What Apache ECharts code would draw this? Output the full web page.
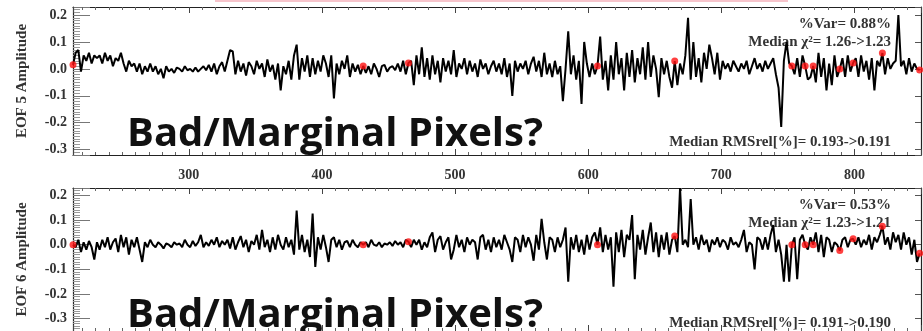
<!DOCTYPE html>
<html><head><meta charset="utf-8">
<script src="https://cdn.jsdelivr.net/npm/echarts@6/dist/echarts.min.js"></script>
<style>html,body{margin:0;padding:0;background:#fff}#c{width:923px;height:331px}</style>
</head><body><div id="c"></div>
<script>
// x positions: xStart, xStart+xStep, ...
const xStart = 213;
const xStep = 2;
const xMin = 213, xMax = 850;

// EOF 5 amplitude (top panel)
const eof5 = [
 .015,.06,.07,-.01,.05,.03,.06,.02,.05,.04,
 .05,.02,.06,.03,.05,.01,.04,.03,.06,.02,
 -.01,.03,.01,.02,-.01,.02,-.02,.01,-.01,.02,
 -.01,.01,-.02,.0,-.035,.01,-.01,.0,-.015,.005,
 .0,-.01,.01,-.005,.0,-.01,.005,-.01,.0,.01,
 -.005,.015,-.01,.02,-.02,.01,.025,-.01,.03,.07,
 .065,-.02,.03,-.01,.02,-.025,.025,.01,-.02,.03,
 .0,.02,-.03,.035,-.01,.015,-.04,.02,-.08,.01,
 -.02,.03,-.04,.05,.09,-.04,.04,-.01,.05,-.03,
 .04,-.02,.03,-.01,.05,.02,-.03,.05,-.11,.02,
 -.02,.03,.0,.05,-.03,.02,-.01,.015,-.02,.011,
 -.015,.01,-.02,.02,.0,-.03,.01,.015,-.01,.005,
 .01,-.005,.02,-.01,.03,-.02,.022,.03,-.06,.05,
 -.02,.08,-.03,.04,-.04,.05,-.02,.03,-.05,.04,
 -.01,.03,-.02,.07,-.03,.02,.0,.04,-.02,.03,
 -.01,.02,-.03,.035,.0,.02,-.02,.01,.03,-.01,
 .02,-.02,.04,-.03,.02,-.1,.03,-.01,.02,.0,
 .03,-.02,.02,.045,-.01,.03,-.03,.06,-.02,.02,
 -.03,.03,-.02,.01,-.12,.0,.14,-.02,.05,-.04,
 .03,-.13,.1,.02,-.03,.02,-.02,.011,.12,-.04,
 .03,-.08,.05,-.04,.1,-.02,.04,-.08,.06,-.03,
 .07,-.05,.04,-.02,.08,-.04,.1,-.03,.05,.0,
 -.105,.04,-.02,.03,-.03,-.07,.029,-.06,.02,-.02,
 .05,.19,-.04,.1,-.03,.04,-.05,.06,.0,.09,
 .04,-.02,.06,-.04,.03,.0,.02,-.01,.03,.01,
 -.01,.02,.0,.03,-.02,.01,.04,.0,.02,-.01,
 .03,.0,.02,.04,-.02,-.07,-.216,.03,.1,.02,
 .011,-.02,.04,-.03,.05,.011,-.04,-.03,.011,-.05,
 .06,-.03,.04,-.08,.02,-.06,.05,-.03,.0,.04,
 -.03,.05,-.01,.022,.04,-.03,.05,-.01,.03,-.04,
 .04,-.08,.03,.01,.059,-.02,.04,.0,.02,.03,
 .2,.01,.03,-.02,.04,-.01,.02,.0,-.004
];

// EOF 6 amplitude (bottom panel)
const eof6 = [
 .0,-.01,.02,-.03,.01,-.02,.015,-.01,-.06,.01,
 -.02,.02,-.01,.03,-.02,.01,.025,-.03,.04,-.01,
 .03,-.04,.02,-.01,.03,-.02,-.07,.01,-.01,.02,
 .0,-.01,.01,.0,-.015,.005,.0,-.01,.01,.0,
 .005,-.01,.02,.0,-.01,.015,-.005,.01,.04,-.01,
 .01,-.005,.02,.0,.03,-.01,.015,.0,.02,-.015,
 .03,-.02,.01,.035,-.01,.02,-.03,.015,.0,.04,
 -.02,.06,-.01,.02,-.03,.03,-.02,.04,.0,-.02,
 .03,-.01,.02,-.04,.138,-.02,.04,-.03,.02,-.05,
 .126,-.09,.03,-.02,.04,-.01,-.07,.02,.03,-.01,
 .02,-.02,.01,.015,-.01,.02,.0,-.01,.01,.0,
 .01,-.01,.02,.0,-.005,.01,-.01,.005,.0,.01,
 -.005,.015,.0,.01,-.01,.02,.012,-.01,.02,.0,
 .02,-.02,.01,-.01,.03,.05,-.03,.02,.035,-.02,
 .01,.03,-.06,-.02,.04,-.01,.02,-.03,.03,.0,
 .02,.01,-.06,.03,.04,-.02,.02,-.03,.03,-.01,
 .02,-.02,.04,.01,-.02,-.07,.03,.02,-.03,.04,
 -.01,.03,.0,-.065,.04,-.02,.105,.01,-.06,.03,
 .02,-.03,.03,-.01,.02,.07,-.15,.03,-.02,.04,
 -.03,.02,-.04,.04,-.02,.03,.05,.0,.07,-.03,
 .04,-.02,.03,-.17,.05,-.03,.06,-.05,.04,.02,
 .12,-.14,.04,-.02,.06,-.04,.03,.09,-.03,.05,
 -.05,.04,-.02,.05,-.04,.02,.035,-.03,.23,.0,
 .02,-.01,.185,.0,.03,-.02,.04,.0,.02,-.03,
 .02,.0,.03,-.01,.02,.01,-.02,.03,.0,.01,
 -.01,.02,.06,-.03,.01,.0,-.1,.03,.02,-.02,
 .03,-.02,.04,.08,-.03,.02,-.04,-.15,.0,-.15,
 .0,.03,-.14,.02,.04,.0,-.02,.03,.0,.05,
 -.03,.04,-.05,.03,.02,-.03,.01,.0,-.024,.02,
 .03,-.01,.02,.024,.0,.03,-.01,.02,.0,.04,
 -.02,.03,.01,.04,.075,.0,.03,-.02,.05,.01,
 .04,-.02,.05,.0,.03,-.04,.02,-.07,-.035
];

// positions (x) of the red marked pixels, same in both panels
const dotX = [213,431,465,607,665,753,763,769,789,799,821,849];

const panelNames = ['EOF 5 Amplitude', 'EOF 6 Amplitude'];
const varTexts = ['%Var= 0.88%', '%Var= 0.53%'];
const chiTexts = ['Median \u03c7\u00b2= 1.26->1.23', 'Median \u03c7\u00b2= 1.23->1.21'];
const rmsTexts = ['Median RMSrel[%]= 0.193->0.191', 'Median RMSrel[%]= 0.191->0.190'];
const bigText = 'Bad/Marginal Pixels?';
const yMaxs = [0.23, 0.23];
const yMins = [-0.32, -0.35];

const SERIF = '"Liberation Serif","Times New Roman",serif';
const panels = [eof5, eof6];
const gridTops = [7, 188];
const gridH = 148;

const grids = [], xAxes = [], yAxes = [], series = [], graphics = [];
panels.forEach((vals, g) => {
  grids.push({left: 73, right: 2, top: gridTops[g], height: gridH, show: false});
  const xCommon = {
    gridIndex: g, type: 'value', min: xMin, max: xMax, splitNumber: 6,
    axisLine: {show: true, onZero: false, lineStyle: {color: '#222', width: 1.2}},
    axisTick: {show: true, inside: true, length: 6, lineStyle: {color: '#444'}},
    minorTick: {show: true, splitNumber: 10, length: 3, lineStyle: {color: '#666'}},
    splitLine: {show: false}
  };
  xAxes.push(Object.assign({}, xCommon, {
    position: 'bottom',
    axisLabel: {show: g === 0, margin: 13, showMinLabel: false, showMaxLabel: false,
      fontFamily: SERIF, fontWeight: 'bold', fontSize: 14, color: '#333'}
  }));
  xAxes.push(Object.assign({}, xCommon, {position: 'top', axisLabel: {show: false}}));
  yAxes.push({
    gridIndex: g, type: 'value', min: yMins[g], max: yMaxs[g], splitNumber: 5, position: 'left',
    axisLine: {show: true, onZero: false, lineStyle: {color: '#222', width: 1.2}},
    axisTick: {show: true, inside: true, length: 17, lineStyle: {color: '#777'}},
    minorTick: {show: true, splitNumber: 10, length: 7, lineStyle: {color: '#999'}},
    splitLine: {show: false},
    axisLabel: {margin: 6, showMinLabel: false, showMaxLabel: false,
      formatter: v => v.toFixed(1),
      fontFamily: SERIF, fontWeight: 'bold', fontSize: 14, color: '#333'},
    name: panelNames[g], nameLocation: 'middle', nameGap: 43,
    nameTextStyle: {fontFamily: SERIF, fontWeight: 'bold', fontSize: 15, color: '#333'}
  });
  yAxes.push({
    gridIndex: g, type: 'value', min: yMins[g], max: yMaxs[g], splitNumber: 5, position: 'right',
    axisLine: {show: true, onZero: false, lineStyle: {color: '#222', width: 1.2}},
    axisTick: {show: true, inside: true, length: 6, lineStyle: {color: '#555'}},
    minorTick: {show: false}, splitLine: {show: false}, axisLabel: {show: false}
  });
  const data = vals.map((v, i) => [xStart + i * xStep, v]);
  series.push({
    type: 'line', xAxisIndex: 2 * g, yAxisIndex: 2 * g, data: data,
    showSymbol: false, symbol: 'none', lineStyle: {color: '#000', width: 2}, z: 3, animation: false
  });
  series.push({
    type: 'scatter', xAxisIndex: 2 * g, yAxisIndex: 2 * g,
    data: dotX.map(x => [x, vals[(x - xStart) / xStep]]),
    symbolSize: 7, itemStyle: {color: '#ff1010'}, z: 4, animation: false
  });
  const t = gridTops[g];
  graphics.push({type: 'text', x: 891, y: t + 17, z: 1,
    style: {text: varTexts[g], align: 'right', verticalAlign: 'middle',
      font: 'bold 15px ' + SERIF, fill: '#333'}});
  graphics.push({type: 'text', x: 891, y: t + 35, z: 1,
    style: {text: chiTexts[g], align: 'right', verticalAlign: 'middle',
      font: 'bold 15px ' + SERIF, fill: '#333'}});
  graphics.push({type: 'text', x: 891, y: t + 135, z: 1,
    style: {text: rmsTexts[g], align: 'right', verticalAlign: 'middle',
      font: 'bold 15px ' + SERIF, fill: '#333'}});
  graphics.push({type: 'text', x: 127, y: t + 128, z: 5,
    style: {text: bigText, align: 'left', verticalAlign: 'middle',
      font: 'bold 40px "Open Sans", "Noto Sans", sans-serif', fill: '#111'}});
});
graphics.push({type: 'rect', shape: {x: 215, y: 0, width: 573, height: 2}, style: {fill: '#f6c4cb'}, z: 1});

const chart = echarts.init(document.getElementById('c'), null, {renderer: 'canvas'});
chart.setOption({
  animation: false,
  backgroundColor: '#fff',
  grid: grids, xAxis: xAxes, yAxis: yAxes, series: series, graphic: graphics
});
</script></body></html>
